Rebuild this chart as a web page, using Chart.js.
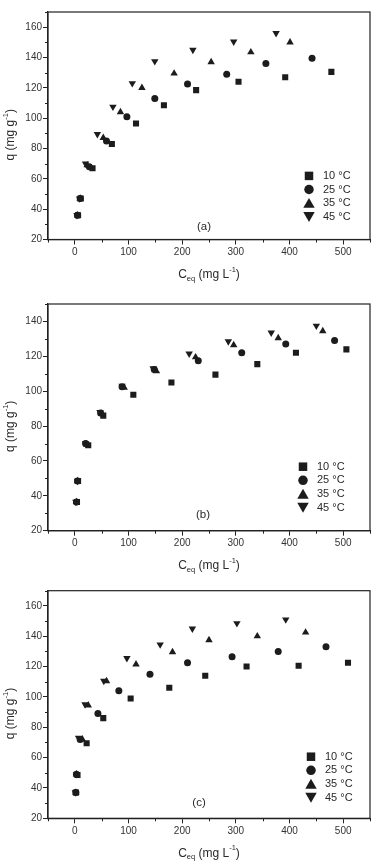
<!DOCTYPE html>
<html>
<head>
<meta charset="utf-8">
<script src="https://cdn.jsdelivr.net/npm/chart.js@4.4.1/dist/chart.umd.min.js"></script>
<style>
  body { margin: 0; background: #fff; }
  canvas { display: block; }
</style>
</head>
<body>
<canvas id="chartA" width="383" height="288"></canvas>
<canvas id="chartB" width="383" height="288"></canvas>
<canvas id="chartC" width="383" height="288"></canvas>
<script>
// Data
var seriesLabels = ['10 °C', '25 °C', '35 °C', '45 °C'];
var xTickStep = 50;
var yTickStep = 10;

// panel (a)
var ceqA10 = [6, 11, 33, 69, 114, 166, 226, 305, 392, 478];
var qA10 = [36, 47, 67, 83, 96.5, 108.5, 118.5, 124, 127, 130.5];
var ceqA25 = [5, 10, 27, 59, 97, 149, 210, 283, 356, 442];
var qA25 = [36, 47, 68, 85, 101, 113, 122.5, 129, 136, 139.5];
var ceqA35 = [5, 10, 23, 53, 85, 125, 185, 254, 328, 401];
var qA35 = [36, 47, 69, 87, 104, 120, 129.5, 137, 143.5, 150];
var ceqA45 = [4, 9, 20, 42, 71, 107, 149, 220, 296, 375];
var qA45 = [36, 47, 70, 89.5, 107.5, 123, 137.5, 145, 150.5, 156];

// panel (b)
var ceqB10 = [4, 6, 25, 53, 109, 180, 262, 340, 412, 506];
var qB10 = [36.5, 48.5, 69, 86, 98, 105, 109.5, 115.5, 122, 124];
var ceqB25 = [3, 5, 20, 48, 88, 148, 230, 311, 393, 484];
var qB25 = [36.5, 48.5, 70, 87.5, 102.5, 112.5, 117.5, 122, 127, 129];
var ceqB35 = [3, 5, 22, 50, 92, 152, 225, 296, 379, 462];
var qB35 = [36.5, 48.5, 69.5, 87, 102, 111.5, 119.5, 126.5, 130.5, 134.5];
var ceqB45 = [2, 5, 20, 47, 88, 146, 213, 286, 366, 450];
var qB45 = [36.5, 48.5, 70, 88, 103, 113, 121.5, 128.5, 133.5, 137.5];

// panel (c)
var ceqC10 = [2, 5, 22, 53, 104, 176, 243, 320, 417, 509];
var qC10 = [37, 48.5, 69.5, 86, 99, 106, 114, 120, 120.5, 122.5];
var ceqC25 = [2, 3, 10, 43, 82, 140, 210, 293, 379, 468];
var qC25 = [37, 49, 72, 89, 104, 115, 122.5, 126.5, 130, 133];
var ceqC35 = [2, 3, 14, 25, 59, 114, 182, 250, 340, 430];
var qC35 = [37, 49, 72, 94.5, 110.5, 121.5, 129.5, 137.5, 140, 142.5];
var ceqC45 = [1, 3, 7, 19, 54, 97, 159, 219, 302, 393];
var qC45 = [37, 49, 73, 95, 110.5, 125.5, 134.5, 145, 148.5, 151];

var ink = '#1c1c1c';
var fontFamily = '"Liberation Sans", Arial, sans-serif';

function toPoints(xs, ys) {
    return xs.map(function (x, i) { return { x: x, y: ys[i] }; });
}

// marker styles per series: square, circle, triangle, inverted triangle
var markers = [
    { pointStyle: 'rect', pointRadius: 4.3, pointRotation: 0 },
    { pointStyle: 'circle', pointRadius: 3.5, pointRotation: 0 },
    { pointStyle: 'triangle', pointRadius: 4.3, pointRotation: 0 },
    { pointStyle: 'triangle', pointRadius: 4.3, pointRotation: 180 }
];

function makeDatasets(list) {
    return list.map(function (pair, i) {
        var m = markers[i];
        return {
            label: seriesLabels[i],
            data: toPoints(pair[0], pair[1]),
            pointStyle: m.pointStyle,
            pointRadius: m.pointRadius,
            pointHoverRadius: m.pointRadius,
            pointRotation: m.pointRotation,
            backgroundColor: ink,
            borderColor: ink,
            borderWidth: 0,
            showLine: false
        };
    });
}

// draws text pieces with sub/superscripts, centred on x
function drawRich(ctx, parts, x, y) {
    var total = 0;
    parts.forEach(function (p) {
        ctx.font = p.size + 'px ' + fontFamily;
        p.w = ctx.measureText(p.t).width;
        total += p.w;
    });
    var cx = x - total / 2;
    ctx.textAlign = 'left';
    ctx.textBaseline = 'middle';
    parts.forEach(function (p) {
        ctx.font = p.size + 'px ' + fontFamily;
        ctx.fillText(p.t, cx, y + (p.dy || 0));
        cx += p.w;
    });
}

function drawMarker(ctx, style, x, y, s) {
    ctx.beginPath();
    if (style === 0) {
        ctx.rect(x - s / 2, y - s / 2, s, s);
    } else if (style === 1) {
        ctx.arc(x, y, s / 2, 0, Math.PI * 2);
    } else if (style === 2) {
        ctx.moveTo(x, y - s * 0.55);
        ctx.lineTo(x + s * 0.6, y + s * 0.5);
        ctx.lineTo(x - s * 0.6, y + s * 0.5);
    } else {
        ctx.moveTo(x, y + s * 0.55);
        ctx.lineTo(x + s * 0.6, y - s * 0.5);
        ctx.lineTo(x - s * 0.6, y - s * 0.5);
    }
    ctx.closePath();
    ctx.fill();
}

var decorPlugin = {
    id: 'decor',
    afterDraw: function (chart, args, opts) {
        var ctx = chart.ctx;
        var a = chart.chartArea;
        ctx.save();
        // frame
        ctx.strokeStyle = '#222';
        ctx.lineWidth = 1.2;
        ctx.strokeRect(a.left, a.top, a.right - a.left, a.bottom - a.top);

        // minor ticks, shorter than the major ones
        ctx.lineWidth = 1;
        ctx.beginPath();
        chart.scales.x.ticks.forEach(function (t) {
            if (t.value % 100 !== 0) {
                var px = Math.round(chart.scales.x.getPixelForValue(t.value)) + 0.5;
                ctx.moveTo(px, a.bottom);
                ctx.lineTo(px, a.bottom + 3);
            }
        });
        chart.scales.y.ticks.forEach(function (t) {
            if (t.value % 20 !== 0) {
                var py = Math.round(chart.scales.y.getPixelForValue(t.value)) + 0.5;
                ctx.moveTo(a.left, py);
                ctx.lineTo(a.left - 3, py);
            }
        });
        ctx.stroke();

        ctx.fillStyle = '#2a2a2a';
        // panel letter
        ctx.font = '11.5px ' + fontFamily;
        ctx.textAlign = 'center';
        ctx.textBaseline = 'middle';
        ctx.fillText(opts.letter, opts.letterX, a.bottom - opts.letterUp);

        // axis titles
        var midX = (a.left + a.right) / 2;
        drawRich(ctx, [
            { t: 'C', size: 12 },
            { t: 'eq', size: 7.5, dy: 4 },
            { t: ' (mg L', size: 12 },
            { t: '-1', size: 7.5, dy: -5 },
            { t: ')', size: 12 }
        ], midX, a.bottom + 35);

        ctx.save();
        ctx.translate(10.5, (a.top + a.bottom) / 2 + 9);
        ctx.rotate(-Math.PI / 2);
        drawRich(ctx, [
            { t: 'q (mg g', size: 12 },
            { t: '-1', size: 7.5, dy: -5 },
            { t: ')', size: 12 }
        ], 0, 0);
        ctx.restore();

        // legend
        chart.data.datasets.forEach(function (ds, i) {
            var y = a.bottom - opts.legendUp + i * 13.6;
            ctx.fillStyle = ink;
            drawMarker(ctx, i, opts.legendX, y, i === 0 ? 8.5 : 9.5);
            ctx.fillStyle = '#2a2a2a';
            ctx.font = '11px ' + fontFamily;
            ctx.textAlign = 'left';
            ctx.textBaseline = 'middle';
            ctx.fillText(ds.label, opts.legendX + 14, y);
        });
        ctx.restore();
    }
};

function makeChart(id, series, panel) {
    var canvas = document.getElementById(id);
    var ctx = canvas.getContext('2d');
    var tickFont = { family: fontFamily, size: 10 };
    return new Chart(ctx, {
        type: 'scatter',
        data: { datasets: makeDatasets(series) },
        options: {
            responsive: false,
            animation: false,
            devicePixelRatio: 1,
            layout: { padding: { top: panel.top, right: 13, left: 0, bottom: 0 } },
            plugins: {
                legend: { display: false },
                tooltip: { enabled: false },
                decor: panel
            },
            scales: {
                x: {
                    type: 'linear',
                    min: -50,
                    max: 550,
                    afterFit: function (s) { s.height = panel.xHeight; },
                    ticks: {
                        stepSize: xTickStep,
                        autoSkip: false,
                        maxRotation: 0,
                        padding: 2,
                        color: '#333',
                        font: tickFont,
                        callback: function (v) { return v % 100 === 0 ? v : ''; }
                    },
                    grid: {
                        drawOnChartArea: false,
                        tickLength: 5,
                        tickWidth: 1,
                        tickColor: function (c) { return c.tick && c.tick.value % 100 === 0 ? '#222' : 'rgba(0,0,0,0)'; }
                    },
                    border: { color: '#222', width: 1.2 }
                },
                y: {
                    type: 'linear',
                    min: 20,
                    max: panel.yMax,
                    afterFit: function (s) { s.width = 48; },
                    ticks: {
                        stepSize: yTickStep,
                        autoSkip: false,
                        padding: 1,
                        color: '#333',
                        font: tickFont,
                        callback: function (v) { return v % 20 === 0 ? v : ''; }
                    },
                    grid: {
                        drawOnChartArea: false,
                        tickLength: 5,
                        tickWidth: 1,
                        tickColor: function (c) { return c.tick && c.tick.value % 20 === 0 ? '#222' : 'rgba(0,0,0,0)'; }
                    },
                    border: { color: '#222', width: 1.2 }
                }
            }
        },
        plugins: [decorPlugin]
    });
}

var chartA = makeChart('chartA', [[ceqA10, qA10], [ceqA25, qA25], [ceqA35, qA35], [ceqA45, qA45]],
    { letter: '(a)', letterX: 204, letterUp: 12.6, legendX: 309, legendUp: 63.6, top: 12, xHeight: 48.5, yMax: 170 });
var chartB = makeChart('chartB', [[ceqB10, qB10], [ceqB25, qB25], [ceqB35, qB35], [ceqB45, qB45]],
    { letter: '(b)', letterX: 203, letterUp: 15.7, legendX: 303, legendUp: 64, top: 16, xHeight: 45.3, yMax: 150 });
var chartC = makeChart('chartC', [[ceqC10, qC10], [ceqC25, qC25], [ceqC35, qC35], [ceqC45, qC45]],
    { letter: '(c)', letterX: 199, letterUp: 15.6, legendX: 311, legendUp: 61.6, top: 14.7, xHeight: 45.7, yMax: 170 });
</script>
</body>
</html>
